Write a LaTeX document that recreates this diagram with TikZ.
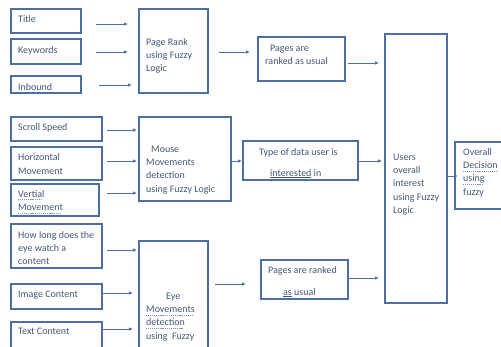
\documentclass[tikz,border=0pt]{standalone}
\usepackage{fontspec}
\setmainfont{Carlito}
\usetikzlibrary{arrows.meta}
\definecolor{boxblue}{RGB}{74,110,165}
\definecolor{inkblue}{RGB}{66,86,120}
\definecolor{wavegray}{RGB}{135,148,178}
\newsavebox\spellbox
\newcommand\spellmark[1]{\sbox\spellbox{#1}\rlap{\raisebox{-2.6pt}{\color{wavegray}\hbox to\wd\spellbox{\leaders\hbox{\rule{1.1pt}{0.6pt}\kern0.8pt}\hfill}}}\usebox\spellbox}

\begin{document}
\begin{tikzpicture}
[x=1pt,y=-1pt,
  boxDecorate/.style={draw=boxblue,line width=1.1pt,inner sep=0pt,outer sep=0pt},%
  textDecorate/.style={text=inkblue,font=\fontsize{10}{13.4}\selectfont,align=left,inner sep=0pt,anchor=north west},%
  arrowDecorate/.style={draw=boxblue,line width=0.9pt,-{Latex[length=4pt,width=3.6pt]}}]
\useasboundingbox (0,0) rectangle (501,347);
\clip (0,0) rectangle (501,347);
%% boxes
\foreach \nodename/\xa/\ya/\xb/\yb in {title/11/9/81/33, keywords/11/39/81/64, inbound/11/76/81/93,
  pagerank/139/9/208/93, ranked1/258/37/345/81, users/385/34/447/303,
  scroll/11/117/102/141, horiz/11/147/102/180, vertial/11/184/99/216,
  mouse/139/117/231/201, typedata/243/141/358/180, overall/455/142/520/209,
  howlong/11/224/102/268, imagecontent/11/284/102/309, textcontent/11/322/102/360,
  eye/139/241/208/400, ranked2/261/260/348/299}
{
  \node (\nodename) at ({(\xa+\xb)/2},{(\ya+\yb)/2}) [boxDecorate,minimum width={(\xb-\xa)*1pt},minimum height={(\yb-\ya)*1pt}] {};
}
%% texts
\foreach \nodename/\x/\y/\txt in {title/18/12.6/{Title}, keywords/18/43.6/{Keywords}, inbound/18/80.6/{Inbound},
  pagerank/146/35.6/{Page Rank\\using Fuzzy\\Logic},
  ranked1/265/41.6/{\hspace*{5pt}Pages are\\ranked as usual},
  scroll/18/120.6/{Scroll Speed}, horiz/18/151.1/{Horizontal\\Movement},
  vertial/18/187.6/{\spellmark{Vertial}\\\spellmark{Movement}},
  mouse/146/142.6/{\hspace*{5pt}Mouse\\Movements\\detection\\using Fuzzy Logic},
  typedata/259/145.6/{Type of data user is\\[7.6pt]\hspace*{11pt}\underline{interested} in},
  users/393/150.6/{Users\\overall\\interest\\using Fuzzy\\Logic},
  overall/463/145.6/{Overall\\\spellmark{Decision}\\\spellmark{using}\\fuzzy},
  howlong/18/228.6/{How long does the\\eye watch a\\content},
  imagecontent/18/287.6/{Image Content}, textcontent/18/324.6/{Text Content},
  eye/146/289.6/{\hspace*{20pt}Eye\\\spellmark{Movements}\\\spellmark{detection}\\using\ \ Fuzzy},
  ranked2/268/263.6/{Pages are ranked\\[8.6pt]\hspace*{15pt}\underline{as} usual}}
{
  \node (\nodename-txt) at (\x,\y) [textDecorate] {\strut\txt};
}
%% connectors
\foreach \startnode/\endnode/\dy/\sa/\sb in {title/pagerank/-3/15/11, keywords/pagerank/-0.5/15/11,
  inbound/pagerank/-0.5/18/7, pagerank/ranked1/-1/11/8, ranked1/users/-4/3/6,
  scroll/mouse/-1/5/2, horiz/mouse/2.5/5/2, vertial/mouse/7/8/2,
  mouse/typedata/-2/0/1, typedata/users/-0.5/0/3, users/overall/-7.5/0/-3,
  howlong/eye/-4/5/2, imagecontent/eye/3.5/1/6, textcontent/eye/12/1/6,
  eye/ranked2/36.5/7/15, ranked2/users/1.5/0/6}
{
  \draw[arrowDecorate,shorten <=\sa pt,shorten >=\sb pt] ([yshift=\dy pt]\startnode.east) -- ([yshift=\dy pt]\startnode.east -| \endnode.west);
}
\end{tikzpicture}
\end{document}
